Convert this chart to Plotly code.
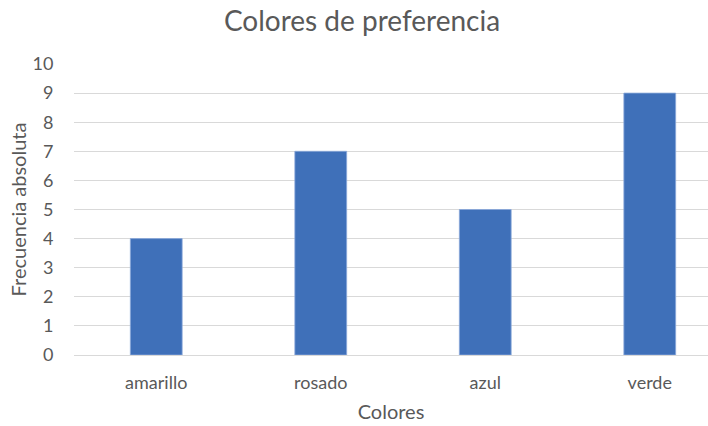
import plotly.graph_objects as go

# Frecuencia de colores preferidos
colores = ["amarillo", "rosado", "azul", "verde"]
frecuencia = [4, 7, 5, 9]
y_ticks = list(range(0, 11))

gris_texto = "#595959"
fuente = "Lato"

fig = go.Figure(
    go.Bar(
        x=colores,
        y=frecuencia,
        width=0.315,
        marker=dict(color="#3F70B9", line=dict(color="#8AA8DA", width=0.8)),
    )
)

fig.update_layout(
    width=708,
    height=426,
    margin=dict(l=74, r=0, t=64, b=71),
    paper_bgcolor="white",
    plot_bgcolor="white",
    showlegend=False,
    font=dict(family=fuente, color=gris_texto, size=18),
    title=dict(
        text="Colores de preferencia",
        x=362 / 708,
        xanchor="center",
        y=1 - 21 / 426,
        yanchor="middle",
        font=dict(family=fuente, size=28, color=gris_texto),
    ),
)

fig.update_xaxes(
    range=[-0.5, 3.354],
    showgrid=False,
    showline=False,
    zeroline=False,
    ticks="outside",
    ticklen=11,
    tickcolor="rgba(0,0,0,0)",
    tickfont=dict(size=18, color=gris_texto),
    title=dict(text="Colores", font=dict(size=20, color=gris_texto), standoff=13),
)

fig.update_yaxes(
    range=[0, 10],
    tickvals=y_ticks,
    showgrid=True,
    gridcolor="#D9D9D9",
    gridwidth=1,
    zeroline=True,
    zerolinecolor="#D9D9D9",
    zerolinewidth=1,
    showline=False,
    ticks="outside",
    ticklen=16,
    tickcolor="rgba(0,0,0,0)",
    tickfont=dict(size=18, color=gris_texto),
    title=dict(text="Frecuencia absoluta", font=dict(size=20, color=gris_texto), standoff=0),
)

fig.write_html("out.html")
